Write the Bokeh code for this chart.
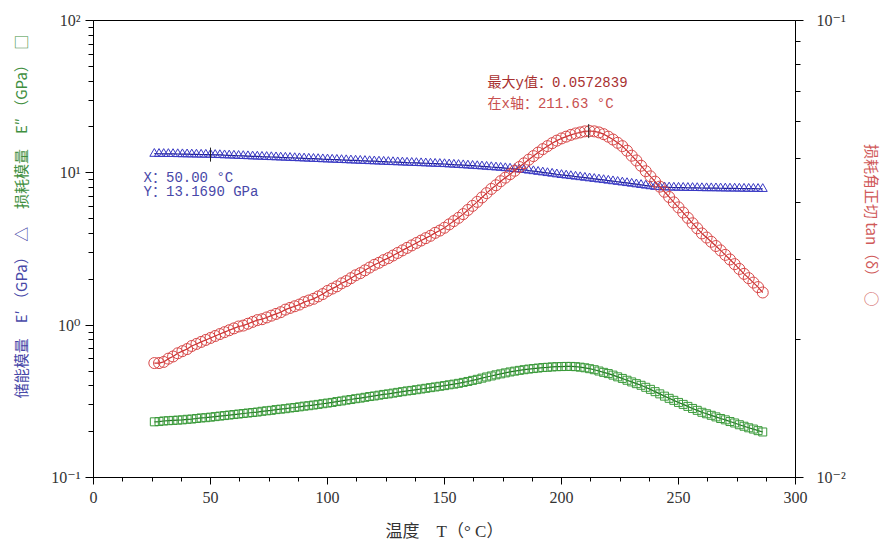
import math
from bokeh.plotting import figure
from bokeh.layouts import row
from bokeh.models import (LogAxis, Range1d, LogScale, FixedTicker,
                          CustomJSTickFormatter, Label)
from bokeh.core.properties import value
from bokeh.embed import file_html
from bokeh.resources import INLINE

# ---------------- data ----------------
temperature = [
    26, 28, 30, 32, 34, 36, 38, 40, 42, 44,
    46, 48, 50, 52, 54, 56, 58, 60, 62, 64,
    66, 68, 70, 72, 74, 76, 78, 80, 82, 84,
    86, 88, 90, 92, 94, 96, 98, 100, 102, 104,
    106, 108, 110, 112, 114, 116, 118, 120, 122, 124,
    126, 128, 130, 132, 134, 136, 138, 140, 142, 144,
    146, 148, 150, 152, 154, 156, 158, 160, 162, 164,
    166, 168, 170, 172, 174, 176, 178, 180, 182, 184,
    186, 188, 190, 192, 194, 196, 198, 200, 202, 204,
    206, 208, 210, 212, 214, 216, 218, 220, 222, 224,
    226, 228, 230, 232, 234, 236, 238, 240, 242, 244,
    246, 248, 250, 252, 254, 256, 258, 260, 262, 264,
    266, 268, 270, 272, 274, 276, 278, 280, 282, 284,
    286]

storage_modulus = [  # E' (GPa)
    13.35, 13.34, 13.33, 13.32, 13.31, 13.29, 13.27, 13.25, 13.23, 13.21,
    13.19, 13.18, 13.17, 13.13, 13.10, 13.06, 13.03, 12.99, 12.95, 12.92,
    12.88, 12.84, 12.81, 12.77, 12.74, 12.70, 12.67, 12.63, 12.60, 12.56,
    12.52, 12.49, 12.45, 12.41, 12.38, 12.34, 12.30, 12.27, 12.23, 12.20,
    12.16, 12.13, 12.09, 12.06, 12.02, 11.99, 11.95, 11.92, 11.88, 11.85,
    11.81, 11.78, 11.75, 11.72, 11.68, 11.65, 11.62, 11.59, 11.56, 11.52,
    11.49, 11.46, 11.43, 11.38, 11.33, 11.29, 11.24, 11.19, 11.14, 11.09,
    11.04, 10.98, 10.92, 10.87, 10.81, 10.75, 10.68, 10.61, 10.53, 10.46,
    10.36, 10.27, 10.17, 10.08, 9.98, 9.89, 9.79, 9.70, 9.62, 9.54,
    9.46, 9.38, 9.30, 9.22, 9.14, 9.06, 8.98, 8.90, 8.82, 8.74,
    8.66, 8.58, 8.50, 8.42, 8.34, 8.26, 8.18, 8.10, 8.07, 8.05,
    8.03, 8.01, 8.00, 7.99, 7.98, 7.97, 7.96, 7.95, 7.94, 7.94,
    7.93, 7.92, 7.91, 7.90, 7.90, 7.89, 7.88, 7.87, 7.87, 7.86,
    7.85]

loss_modulus = [  # E'' (GPa)
    0.232, 0.233, 0.235, 0.236, 0.237, 0.238, 0.239, 0.241, 0.242, 0.244,
    0.246, 0.247, 0.249, 0.251, 0.253, 0.255, 0.257, 0.259, 0.261, 0.263,
    0.265, 0.267, 0.269, 0.272, 0.274, 0.276, 0.279, 0.281, 0.283, 0.286,
    0.288, 0.291, 0.294, 0.296, 0.299, 0.302, 0.305, 0.308, 0.311, 0.315,
    0.318, 0.322, 0.325, 0.329, 0.332, 0.336, 0.340, 0.343, 0.347, 0.351,
    0.354, 0.358, 0.362, 0.366, 0.370, 0.373, 0.377, 0.381, 0.385, 0.389,
    0.393, 0.397, 0.401, 0.406, 0.410, 0.415, 0.421, 0.427, 0.434, 0.441,
    0.449, 0.457, 0.464, 0.472, 0.479, 0.486, 0.493, 0.499, 0.505, 0.510,
    0.515, 0.519, 0.523, 0.527, 0.529, 0.532, 0.534, 0.535, 0.536, 0.536,
    0.534, 0.530, 0.525, 0.518, 0.510, 0.500, 0.490, 0.481, 0.470, 0.458,
    0.447, 0.435, 0.424, 0.413, 0.403, 0.391, 0.379, 0.366, 0.354, 0.342,
    0.331, 0.321, 0.311, 0.302, 0.293, 0.284, 0.276, 0.268, 0.262, 0.256,
    0.250, 0.244, 0.239, 0.233, 0.228, 0.222, 0.217, 0.212, 0.208, 0.203,
    0.199]

tan_delta = [
    0.0178, 0.0178, 0.0179, 0.0182, 0.0184, 0.0187, 0.0189, 0.0191, 0.0194, 0.0196,
    0.0198, 0.0200, 0.0202, 0.0204, 0.0206, 0.0208, 0.0210, 0.0212, 0.0214, 0.0215,
    0.0217, 0.0219, 0.0221, 0.0222, 0.0224, 0.0226, 0.0228, 0.0230, 0.0233, 0.0235,
    0.0237, 0.0239, 0.0242, 0.0244, 0.0246, 0.0249, 0.0252, 0.0256, 0.0259, 0.0262,
    0.0266, 0.0269, 0.0273, 0.0277, 0.0280, 0.0284, 0.0288, 0.0292, 0.0295, 0.0299,
    0.0302, 0.0306, 0.0310, 0.0314, 0.0318, 0.0322, 0.0326, 0.0330, 0.0334, 0.0338,
    0.0343, 0.0347, 0.0352, 0.0358, 0.0364, 0.0370, 0.0377, 0.0385, 0.0393, 0.0401,
    0.0410, 0.0419, 0.0428, 0.0436, 0.0445, 0.0453, 0.0461, 0.0469, 0.0478, 0.0487,
    0.0496, 0.0505, 0.0514, 0.0523, 0.0531, 0.0539, 0.0546, 0.0552, 0.0557, 0.0562,
    0.0566, 0.0569, 0.0572, 0.0573, 0.0572, 0.0569, 0.0564, 0.0557, 0.0549, 0.0540,
    0.0531, 0.0519, 0.0506, 0.0494, 0.0481, 0.0468, 0.0456, 0.0444, 0.0433, 0.0422,
    0.0411, 0.0400, 0.0390, 0.0380, 0.0370, 0.0360, 0.0351, 0.0342, 0.0335, 0.0328,
    0.0321, 0.0314, 0.0307, 0.0300, 0.0293, 0.0286, 0.0279, 0.0273, 0.0267, 0.0261,
    0.0254]

# data cursors shown in the chart
cursor_x, cursor_y = 50.00, 13.1690
peak_x, peak_y = 211.63, 0.0572839

x_ticks = [0, 50, 100, 150, 200, 250, 300]
left_ticks = [0.1, 1, 10, 100]
left_tick_labels = ["10⁻¹", "10⁰", "10¹", "10²"]
right_ticks = [0.01, 0.1]
right_tick_labels = ["10⁻²", "10⁻¹"]

x_title = "温度　T（° C）"
left_title_storage = "储能模量　E′ （GPa）　△"
left_title_loss = "损耗模量　E″ （GPa）　□"
right_title = "损耗角正切 tan（δ）　○"

# ---------------- styling ----------------
BLUE_LINE, BLUE_MARK, BLUE_TXT = "#1c1c8a", "#3838c4", "#4848a8"
GREEN_LINE, GREEN_MARK, GREEN_TXT = "#1f6e1f", "#3a9a3a", "#3f8f3f"
RED_LINE, RED_MARK, RED_TXT = "#c83030", "#d84848", "#d05a5a"
SERIF = "Liberation Serif, DejaVu Serif, Noto Sans CJK SC"
MIXED = "Liberation Serif, Noto Sans CJK SC"
CJK = "Noto Sans CJK SC"
MONO = "Liberation Mono, Noto Sans CJK SC"

W, H = 886, 548
LEFT_W, RIGHT_W = 40, 36
MAIN_W = W - LEFT_W - RIGHT_W

p = figure(width=MAIN_W, height=H, output_backend="svg", toolbar_location=None,
           x_range=Range1d(0, 300), y_range=Range1d(0.1, 100), y_axis_type="log",
           min_border_left=93 - LEFT_W, min_border_right=MAIN_W + LEFT_W - 795,
           min_border_top=20, min_border_bottom=H - 477)
p.extra_y_ranges = {"tan": Range1d(0.01, 0.1)}
p.extra_y_scales = {"tan": LogScale()}
p.xgrid.visible = False
p.ygrid.visible = False
p.outline_line_color = "black"
p.outline_line_width = 1
p.background_fill_color = "white"
p.border_fill_color = "white"


def log_formatter(tvals, tlabels):
    return CustomJSTickFormatter(args=dict(tvals=tvals, tlabels=tlabels), code="""
        for (let i = 0; i < tvals.length; i++) {
            if (Math.abs(Math.log10(tick) - Math.log10(tvals[i])) < 1e-6) return tlabels[i];
        }
        return "";
    """)


def minor_log(tvals):
    out = []
    for t in tvals[:-1]:
        out += [t * k for k in range(2, 10)]
    return out


def style_axis(ax, major_out, minor_out, standoff):
    ax.axis_line_color = "black"
    ax.major_tick_line_color = "black"
    ax.minor_tick_line_color = "black"
    ax.major_tick_in = 0
    ax.minor_tick_in = 0
    ax.major_tick_out = major_out
    ax.minor_tick_out = minor_out
    ax.major_label_standoff = standoff
    ax.major_label_text_font = SERIF
    ax.major_label_text_font_size = "16px"
    ax.major_label_text_color = "#333333"


xa = p.xaxis[0]
xa.ticker = FixedTicker(ticks=x_ticks,
                        minor_ticks=[a + k * (b - a) / 4 for a, b in zip(x_ticks[:-1], x_ticks[1:]) for k in range(1, 4)])
style_axis(xa, 7, 4, 7)
xa.axis_label = x_title
xa.axis_label_text_font = MIXED
xa.axis_label_text_font_size = "17px"
xa.axis_label_text_font_style = "normal"
xa.axis_label_text_color = "#333333"
xa.axis_label_standoff = 16

ya = p.yaxis[0]
ya.ticker = FixedTicker(ticks=left_ticks, minor_ticks=minor_log(left_ticks))
ya.formatter = log_formatter(left_ticks, left_tick_labels)
style_axis(ya, 8, 5, 5)

ra = LogAxis(y_range_name="tan")
ra.ticker = FixedTicker(ticks=right_ticks, minor_ticks=minor_log(right_ticks))
ra.formatter = log_formatter(right_ticks, right_tick_labels)
style_axis(ra, 8, 5, 13)
p.add_layout(ra, "right")

# ---------------- series ----------------
p.line(temperature, storage_modulus, line_color=BLUE_LINE, line_width=1.2)
p.scatter(temperature, storage_modulus, marker="triangle", size=9,
          fill_color=None, line_color=BLUE_MARK, line_width=1)

p.line(temperature, loss_modulus, line_color=GREEN_LINE, line_width=1.2)
p.scatter(temperature, loss_modulus, marker="square", size=8,
          fill_color=None, line_color=GREEN_MARK, line_width=1)

p.line(temperature, tan_delta, line_color=RED_LINE, line_width=1.2, y_range_name="tan")
p.scatter(temperature, tan_delta, marker="circle", size=11,
          fill_color=None, line_color=RED_MARK, line_width=1, y_range_name="tan")

# data cursors
p.scatter([cursor_x], [cursor_y], marker="dash", angle=math.pi / 2, size=14,
          line_color="#222222", line_width=1)
p.scatter([peak_x], [peak_y], marker="dash", angle=math.pi / 2, size=14,
          line_color="#222222", line_width=1, y_range_name="tan")

# cursor read-outs
p.add_layout(Label(x=21.4, y=9.18, text=f"X：{cursor_x:.2f} °C", text_font=MONO,
                   text_font_size="14px", text_color=BLUE_TXT, text_baseline="middle"))
p.add_layout(Label(x=21.4, y=7.43, text=f"Y：{cursor_y:.4f} GPa", text_font=MONO,
                   text_font_size="14px", text_color=BLUE_TXT, text_baseline="middle"))
p.add_layout(Label(x=168.4, y=38.6, text=f"最大y值：{peak_y:.7f}", text_font=MONO,
                   text_font_size="14px", text_color="#a83030", text_baseline="middle"))
p.add_layout(Label(x=168.4, y=28.1, text=f"在x轴：{peak_x:.2f} °C", text_font=MONO,
                   text_font_size="14px", text_color="#c85050", text_baseline="middle"))


# ---------------- side strips carrying the vertical axis titles ----------------
def strip(width):
    s = figure(width=width, height=H, output_backend="svg", toolbar_location=None,
               x_range=Range1d(0, width), y_range=Range1d(0, H),
               min_border_left=0, min_border_right=0, min_border_top=0, min_border_bottom=0)
    s.axis.visible = False
    s.grid.visible = False
    s.outline_line_color = None
    s.background_fill_color = "white"
    s.border_fill_color = "white"
    return s


left_strip = strip(LEFT_W)
left_strip.text(x=[20], y=[H - 453], text=[left_title_storage], angle=math.pi / 2,
                text_font=value(CJK), text_font_size=value("15px"),
                text_color=BLUE_TXT, text_align="left", text_baseline="middle")
left_strip.text(x=[20], y=[H - 17], text=[left_title_loss], angle=math.pi / 2,
                text_font=value(CJK), text_font_size=value("15px"),
                text_color=GREEN_TXT, text_align="right", text_baseline="middle")

right_strip = strip(RIGHT_W)
right_strip.text(x=[22], y=[H - 148], text=[right_title], angle=-math.pi / 2,
                 text_font=value(CJK), text_font_size=value("15px"),
                 text_color=RED_TXT, text_align="left", text_baseline="middle")

layout = row(left_strip, p, right_strip, spacing=0)
open("out.html", "w").write(file_html(layout, INLINE))
